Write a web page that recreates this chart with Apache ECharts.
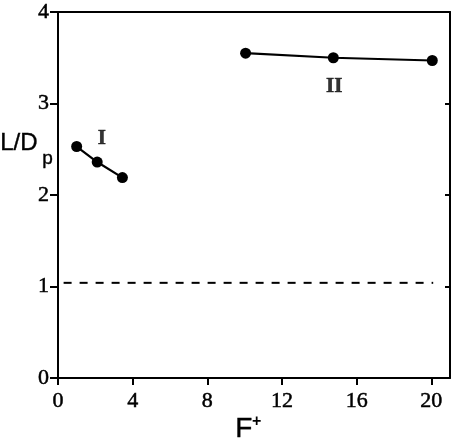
<!DOCTYPE html>
<html>
<head>
<meta charset="utf-8">
<script src="https://cdn.jsdelivr.net/npm/echarts@6/dist/echarts.min.js"></script>
<style>
  html, body { margin: 0; padding: 0; background: #fff; }
  #main { width: 457px; height: 443px; }
</style>
</head>
<body>
<div id="main"></div>
<script>
// series I (low F+) and II (high F+)
var xI = [1.0, 2.1, 3.45];
var yI = [2.53, 2.36, 2.19];
var xII = [10.05, 14.75, 20.05];
var yII = [3.55, 3.50, 3.47];
// dashed reference line
var refX = [0.3, 20.1];
var refY = [1.04, 1.04];
// roman numeral labels
var labelText = ["I", "II"];
var labelX = [2.35, 14.8];
var labelY = [2.62, 3.18];
var xTicks = [0, 4, 8, 12, 16, 20];
var yTicks = [0, 1, 2, 3, 4];

function pairs(xs, ys) {
  return xs.map(function (x, i) { return [x, ys[i]]; });
}

var serif = "'Liberation Serif', 'DejaVu Serif', serif";
var sans = "'Liberation Sans', Arial, sans-serif";
var black = { color: "#000", width: 2 };
// scanned look: strokes a bit heavier than the plain font
var heavy = { textBorderColor: "#000", textBorderWidth: 0.5 };

var myChart = echarts.init(document.getElementById("main"));
myChart.setOption({
  animation: false,
  grid: { left: 58, right: 7, top: 12, bottom: 65, containLabel: false },
  xAxis: [{
    type: "value",
    min: 0,
    max: 21,
    interval: 4,
    axisLine: { show: true, onZero: false, lineStyle: black },
    axisTick: { show: true, length: 7, lineStyle: black, customValues: xTicks },
    axisLabel: Object.assign({ color: "#000", fontFamily: serif, fontSize: 22, margin: 12,
      customValues: xTicks }, heavy),
    splitLine: { show: false }
  }, {
    type: "value",
    position: "top",
    min: 0,
    max: 21,
    axisLine: { show: true, onZero: false, lineStyle: black },
    axisTick: { show: false },
    axisLabel: { show: false },
    splitLine: { show: false }
  }],
  yAxis: [{
    type: "value",
    min: 0,
    max: 4,
    interval: 1,
    axisLine: { show: true, onZero: false, lineStyle: black },
    axisTick: { show: true, length: 8, lineStyle: black },
    axisLabel: Object.assign({ color: "#000", fontFamily: serif, fontSize: 22, margin: 9 }, heavy),
    splitLine: { show: false }
  }, {
    type: "value",
    position: "right",
    min: 0,
    max: 4,
    interval: 1,
    axisLine: { show: true, onZero: false, lineStyle: black },
    axisTick: { show: true, inside: true, length: 5, lineStyle: black },
    axisLabel: { show: false },
    splitLine: { show: false }
  }],
  graphic: [
    {
      type: "text",
      left: 0,
      top: 131,
      style: { text: "L/D", fontFamily: sans, fontSize: 24, fill: "#000", stroke: "#000", lineWidth: 0.4 }
    },
    {
      type: "text",
      left: 42,
      top: 149,
      style: { text: "p", fontFamily: sans, fontSize: 19, fill: "#000", stroke: "#000", lineWidth: 0.4 }
    },
    {
      type: "text",
      left: 235,
      top: 415,
      style: { text: "F", fontFamily: sans, fontSize: 28, fill: "#000", stroke: "#000", lineWidth: 0.4 }
    },
    {
      type: "text",
      left: 252,
      top: 414,
      style: { text: "+", fontFamily: sans, fontSize: 16, fontWeight: "bold", fill: "#000" }
    }
  ],
  series: [
    {
      name: "I",
      type: "line",
      data: pairs(xI, yI),
      symbol: "circle",
      symbolSize: 11,
      itemStyle: { color: "#000" },
      lineStyle: { color: "#000", width: 2.2 }
    },
    {
      name: "II",
      type: "line",
      data: pairs(xII, yII),
      symbol: "circle",
      symbolSize: 11,
      itemStyle: { color: "#000" },
      lineStyle: { color: "#000", width: 2.2 }
    },
    {
      name: "ref",
      type: "line",
      data: pairs(refX, refY),
      symbol: "none",
      lineStyle: { color: "#000", width: 2, type: [8, 8] }
    },
    {
      name: "labels",
      type: "scatter",
      symbolSize: 0,
      data: labelX.map(function (x, i) { return { value: [x, labelY[i]], name: labelText[i] }; }),
      label: Object.assign({
        show: true,
        position: "inside",
        formatter: "{b}",
        fontFamily: serif,
        fontWeight: "bold",
        fontSize: 21,
        color: "#000"
      }, heavy)
    }
  ]
});
</script>
</body>
</html>
